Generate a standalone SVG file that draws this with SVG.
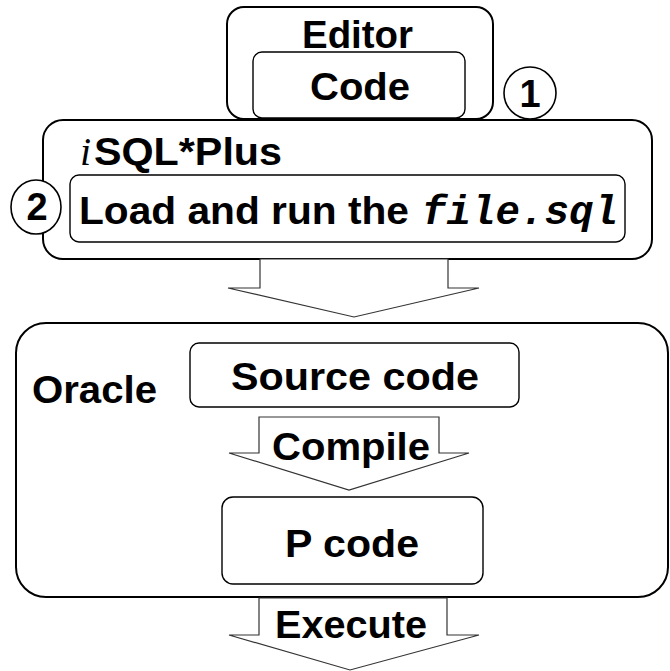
<svg xmlns="http://www.w3.org/2000/svg" width="670" height="671" viewBox="0 0 670 671">
<style>
  .outer { fill: #ffffff; stroke: #000000; stroke-width: 2; }
  .inner { fill: #ffffff; stroke: #000000; stroke-width: 1.4; }
  .num { fill: #ffffff; stroke: #000000; stroke-width: 1.6; }
  .arrow { fill: #ffffff; stroke: #333333; stroke-width: 1.2; stroke-linejoin: miter; }
  .t { font-family: "Liberation Sans", Arial, sans-serif; font-weight: bold; font-size: 38px; fill: #000000; }
  .n { font-family: "Liberation Sans", Arial, sans-serif; font-weight: bold; font-size: 38px; fill: #000000; }
  .ital { font-family: "Liberation Serif", "Times New Roman", serif; font-style: italic; font-weight: normal; font-size: 40px; fill: #000000; }
  .mono { font-family: "Liberation Mono", "Courier New", monospace; font-style: italic; font-weight: bold; font-size: 40px; fill: #000000; }
</style>
<rect width="670" height="671" fill="#ffffff"/>
<g id="editor">
  <rect class="outer" x="227" y="7" width="266" height="112" rx="17" ry="17"/>
  <text class="t" x="302" y="48" textLength="111" lengthAdjust="spacingAndGlyphs">Editor</text>
</g>
<g id="code">
  <rect class="inner" x="253" y="52" width="212" height="66" rx="9" ry="9"/>
  <text class="t" x="310" y="100" textLength="100" lengthAdjust="spacingAndGlyphs">Code</text>
</g>
<g id="isqlplus">
  <rect class="outer" x="43" y="120" width="609" height="139" rx="20" ry="20"/>
  <text class="ital" x="80" y="165">i</text>
  <text class="t" x="94" y="165" textLength="188" lengthAdjust="spacingAndGlyphs">SQL*Plus</text>
</g>
<g id="step1">
  <circle class="num" cx="530" cy="93" r="26"/>
  <text class="n" x="530" y="107" text-anchor="middle">1</text>
</g>
<g id="load">
  <rect class="inner" x="70" y="175" width="555" height="67" rx="9" ry="9"/>
  <text class="t" x="79" y="224" textLength="330" lengthAdjust="spacingAndGlyphs">Load and run the</text>
  <text class="mono" x="422" y="224" textLength="196" lengthAdjust="spacingAndGlyphs">file.sql</text>
</g>
<g id="step2">
  <ellipse class="num" cx="36" cy="207" rx="25" ry="27"/>
  <text class="n" x="37" y="220" text-anchor="middle">2</text>
</g>
<g id="oracle">
  <rect class="outer" x="16" y="323" width="652" height="274" rx="30" ry="30"/>
  <text class="t" x="32" y="403" textLength="125" lengthAdjust="spacingAndGlyphs">Oracle</text>
</g>
<g id="source-code">
  <rect class="inner" x="190" y="343" width="329" height="64" rx="9" ry="9"/>
  <text class="t" x="231" y="390" textLength="248" lengthAdjust="spacingAndGlyphs">Source code</text>
</g>
<g id="p-code">
  <rect class="inner" x="222" y="497" width="261" height="87" rx="11" ry="11"/>
  <text class="t" x="285" y="557" textLength="134" lengthAdjust="spacingAndGlyphs">P code</text>
</g>
<g id="connectors">
  <polygon class="arrow" points="260,259 448,259 448,288 479,288 354,317 228,288 260,288"/>
  <polygon class="arrow" points="259,417 439,417 439,453 469,453 349,490 229,453 259,453"/>
  <polygon class="arrow" points="259,598 447,598 447,635 479,635 350,670 229,635 259,635"/>
  <text class="t" x="272" y="460" textLength="158" lengthAdjust="spacingAndGlyphs">Compile</text>
  <text class="t" x="275" y="638" textLength="152" lengthAdjust="spacingAndGlyphs">Execute</text>
</g>
</svg>
